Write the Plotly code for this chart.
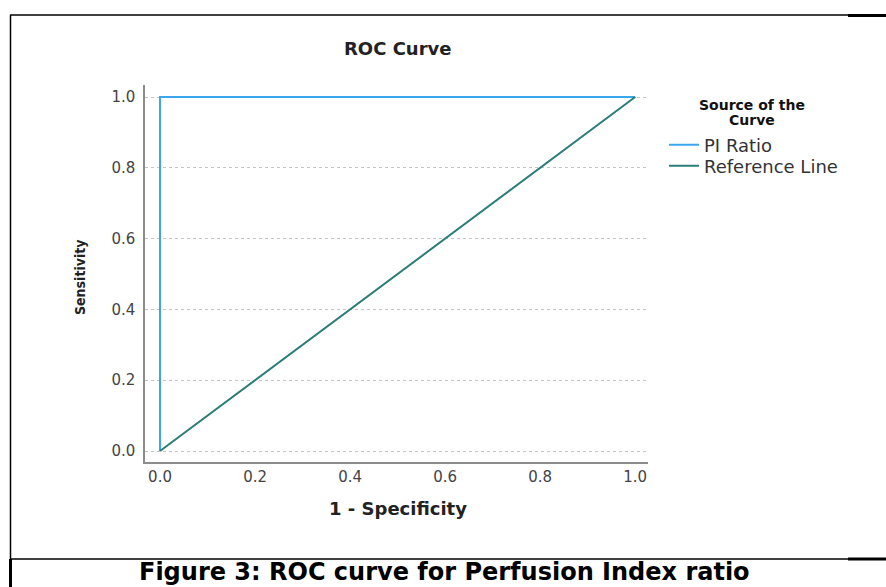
import plotly.graph_objects as go

W, H = 886, 587

# Data
pi_fpr = [0.0, 0.0, 1.0]
pi_tpr = [0.0, 1.0, 1.0]
ref_fpr = [0.0, 1.0]
ref_tpr = [0.0, 1.0]
tick_vals = [0.0, 0.2, 0.4, 0.6, 0.8, 1.0]
tick_text = ["0.0", "0.2", "0.4", "0.6", "0.8", "1.0"]

def px(x):
    return x / W

def py(y):
    return 1 - y / H

fig = go.Figure()
fig.add_trace(go.Scatter(x=pi_fpr, y=pi_tpr, mode="lines", name="PI Ratio",
                         line=dict(color="#3aa6ee", width=2), legend="legend"))
fig.add_trace(go.Scatter(x=ref_fpr, y=ref_tpr, mode="lines", name="Reference Line",
                         line=dict(color="#2a7d78", width=2), legend="legend2"))

x0, x1 = 145, 648
y0, y1 = 462, 85
leg_font = dict(family="DejaVu Sans", size=18, color="#333")
fig.update_layout(
    width=W, height=H,
    margin=dict(l=0, r=0, t=0, b=0),
    paper_bgcolor="white", plot_bgcolor="white",
    font=dict(family="DejaVu Sans", color="#333"),
    xaxis=dict(domain=[px(x0), px(x1)], range=[-0.0316, 1.027],
               tickvals=tick_vals, ticktext=tick_text,
               showgrid=False, zeroline=False, showline=True,
               linecolor="#8c8c8c", linewidth=1.5,
               ticks="outside", ticklen=0.5, tickcolor="rgba(0,0,0,0)",
               tickfont=dict(family="DejaVu Sans", size=15, color="#444")),
    yaxis=dict(domain=[py(y0), py(y1)], range=[-0.031, 1.034],
               tickvals=tick_vals, ticktext=tick_text,
               showgrid=True, gridcolor="#c4c4c4", griddash="3px,3px", gridwidth=1,
               zeroline=False, showline=True,
               linecolor="#8c8c8c", linewidth=1.5,
               ticks="outside", ticklen=5, tickcolor="rgba(0,0,0,0)",
               tickfont=dict(family="DejaVu Sans", size=15, color="#444")),
    legend=dict(x=px(664), y=py(145), xanchor="left", yanchor="middle",
                font=leg_font, itemwidth=30, bgcolor="rgba(0,0,0,0)"),
    legend2=dict(x=px(664), y=py(166), xanchor="left", yanchor="middle",
                 font=leg_font, itemwidth=30, bgcolor="rgba(0,0,0,0)"),
    showlegend=True,
)

annos = [
    dict(text="<b>ROC Curve</b>", x=px(397), y=py(49), font=dict(family="DejaVu Sans", size=18, color="#222")),
    dict(text="<b>1 - Specificity</b>", x=px(398), y=py(508), font=dict(family="DejaVu Sans", size=18, color="#222")),
    dict(text="<b>Sensitivity</b>", x=px(80), y=py(277), textangle=-90,
         font=dict(family="Liberation Sans Narrow, DejaVu Sans Condensed", size=14, color="#222")),
    dict(text="<b>Source of the</b>", x=px(752), y=py(105),
         font=dict(family="DejaVu Sans", size=14, color="#111")),
    dict(text="<b>Curve</b>", x=px(752), y=py(120),
         font=dict(family="DejaVu Sans", size=14, color="#111")),
    dict(text="<b>Figure 3: ROC curve for Perfusion Index ratio</b>", x=px(445), y=py(572),
         font=dict(family="DejaVu Sans", size=24, color="#000")),
]
for a in annos:
    a.update(xref="paper", yref="paper", showarrow=False, xanchor="center", yanchor="middle")
    fig.add_annotation(**a)

def seg(xa, ya, xb, yb, w):
    fig.add_shape(type="line", xref="paper", yref="paper",
                  x0=px(xa), y0=py(ya), x1=px(xb), y1=py(yb),
                  line=dict(color="black", width=w))

seg(10, 15, 848, 15, 1.5)
seg(848, 15.5, 886, 15.5, 3)
seg(10.5, 15, 10.5, 559, 1.5)
seg(10.5, 559, 10.5, 587, 3)
seg(10, 559, 848, 559, 1.5)
seg(848, 559, 886, 559, 3)

fig.write_html("out.html", config={"displayModeBar": False},
               post_script="document.body.style.margin='0';document.body.style.padding='0';document.body.style.overflow='hidden';")
